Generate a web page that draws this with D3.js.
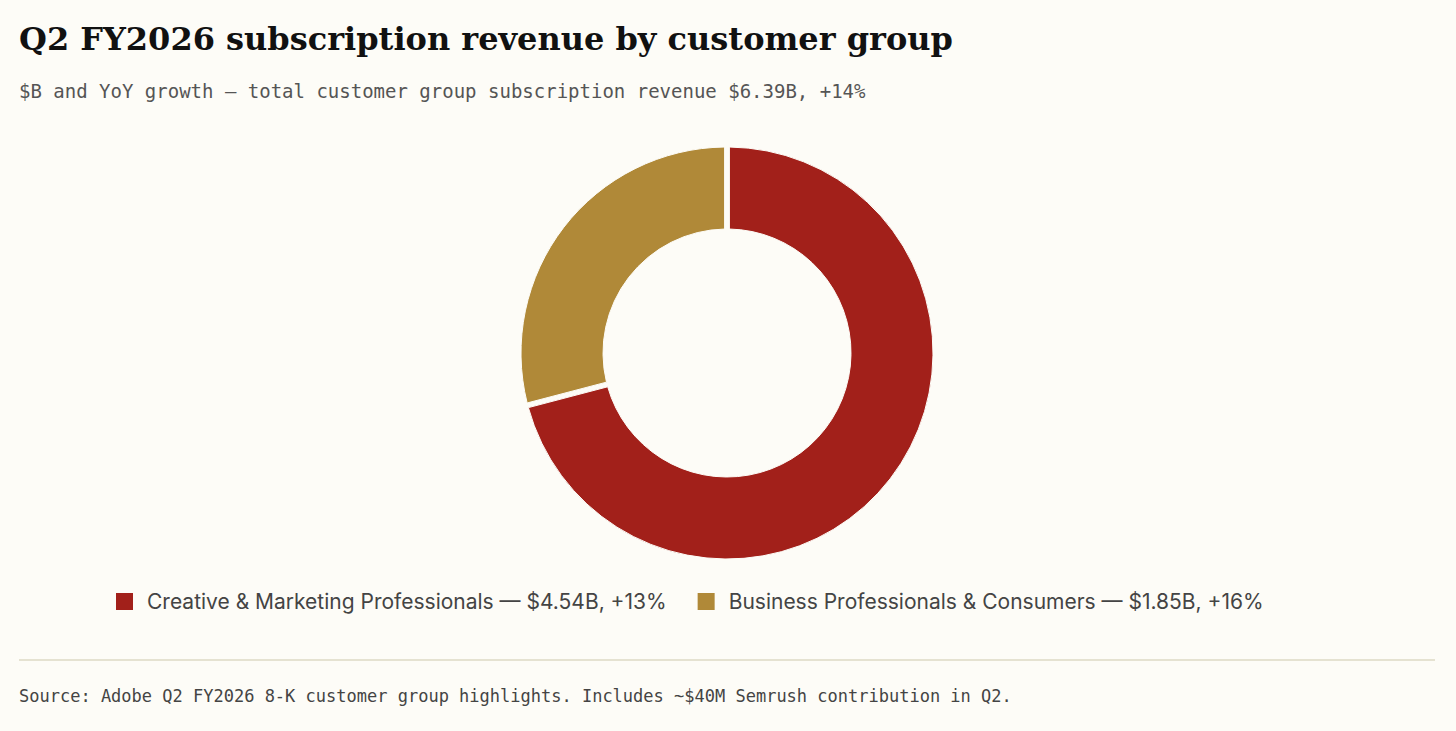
<!DOCTYPE html>
<html><head><meta charset="utf-8">
<script src="https://cdn.jsdelivr.net/npm/d3@7"></script>
<style>
body{margin:0;background:#fdfcf7;}
</style></head>
<body><svg id="chart" width="1456" height="731"></svg>
<script>
const groups = ['Creative & Marketing Professionals', 'Business Professionals & Consumers'];
const revenue = [4.54, 1.85];
const growth = ['+13%', '+16%'];
const colors = ['#a2201a', '#b08938'];

const svg = d3.select('#chart');
svg.append('rect').attr('width', 1456).attr('height', 731).attr('fill', '#fdfcf7');

svg.append('text').attr('x', 19).attr('y', 50)
   .style('font', 'bold 32px "DejaVu Serif", serif').attr('fill', '#111')
   .text('Q2 FY2026 subscription revenue by customer group');
svg.append('text').attr('x', 19).attr('y', 98)
   .style('font', '19px "DejaVu Sans Mono", monospace').attr('fill', '#555')
   .text('$B and YoY growth — total customer group subscription revenue $6.39B, +14%');

// Donut
const data = groups.map((g, i) => ({ group: g, value: revenue[i], color: colors[i] }));
const pie = d3.pie().value(d => d.value).sort(null).padAngle(0.02);
const arc = d3.arc().innerRadius(124).outerRadius(206);
const g = svg.append('g').attr('transform', 'translate(727,353)');
g.selectAll('path').data(pie(data)).enter().append('path')
 .attr('d', arc).attr('fill', d => d.data.color)
 .attr('stroke', '#fdfcf7').attr('stroke-width', 1);

// Legend
const legend = svg.append('g').attr('transform', 'translate(116,602)');
let lx = 0;
data.forEach((d, i) => {
  const item = legend.append('g').attr('transform', 'translate(' + lx + ',0)');
  item.append('rect').attr('x', 0).attr('y', -9).attr('width', 17).attr('height', 17).attr('fill', d.color);
  const t = item.append('text').attr('x', 31).attr('y', 7)
    .style('font', '21px Inter, "Noto Sans", sans-serif').attr('fill', '#444')
    .text(d.group + ' — $' + d.value.toFixed(2) + 'B, ' + growth[i]);
  lx += 31 + t.node().getComputedTextLength() + 31;
});

svg.append('line').attr('x1', 19).attr('x2', 1435).attr('y1', 660).attr('y2', 660)
   .attr('stroke', '#dcdac4').attr('stroke-width', 1.5);
svg.append('text').attr('x', 19).attr('y', 702)
   .style('font', '17px "DejaVu Sans Mono", monospace').attr('fill', '#444')
   .text('Source: Adobe Q2 FY2026 8-K customer group highlights. Includes ~$40M Semrush contribution in Q2.');
</script></body></html>
